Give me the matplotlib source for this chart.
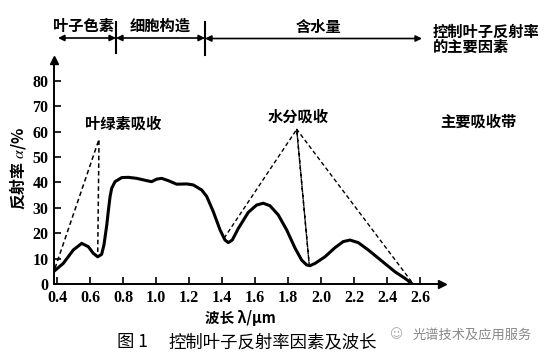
import matplotlib
matplotlib.use("Agg")
import matplotlib.pyplot as plt
from matplotlib.patches import FancyArrowPatch
from matplotlib.lines import Line2D

plt.rcParams['font.family'] = ['Noto Sans CJK SC', 'DejaVu Sans']
plt.rcParams['mathtext.fontset'] = 'stix'

# reflectance curve (wavelength um, reflectance %)
wl = [0.376, 0.436, 0.497, 0.548, 0.588, 0.618, 0.645, 0.669, 0.683, 0.70,
      0.709, 0.72, 0.73, 0.75, 0.791, 0.831, 0.882, 0.942, 0.972, 1.003,
      1.033, 1.073, 1.124, 1.185, 1.225, 1.276, 1.306, 1.346, 1.387, 1.417,
      1.437, 1.461, 1.498, 1.558, 1.609, 1.649, 1.69, 1.74, 1.791, 1.842,
      1.882, 1.912, 1.932, 1.963, 2.023, 2.084, 2.134, 2.175, 2.225, 2.286,
      2.367, 2.448, 2.509, 2.553]
refl = [4.8, 8.1, 13.4, 16.0, 14.7, 12.1, 10.7, 11.7, 15.4, 23.2,
        28.5, 34.4, 37.7, 40.3, 41.9, 42.0, 41.6, 40.7, 40.3, 41.3,
        41.6, 40.7, 39.3, 39.4, 39.0, 37.0, 34.5, 28.5, 21.3, 17.3,
        16.3, 17.3, 21.9, 28.2, 31.1, 31.8, 30.8, 27.2, 21.3, 14.1,
        9.4, 7.5, 7.2, 8.1, 10.7, 14.3, 16.7, 17.3, 16.3, 13.4,
        9.1, 4.8, 2.2, 0.0]

# dashed absorption triangles
chl_x = [0.386, 0.653, 0.645]
chl_y = [6.2, 57.0, 11.4]
water_x = [1.411, 1.852, 1.928, 1.852, 2.559]
water_y = [18.0, 60.9, 7.5, 60.9, 0.0]

xticks = [0.4, 0.6, 0.8, 1.0, 1.2, 1.4, 1.6, 1.8, 2.0, 2.2, 2.4, 2.6]
yticks = [0, 10, 20, 30, 40, 50, 60, 70, 80]

W, H = 554, 360
fig = plt.figure(figsize=(W / 100, H / 100), dpi=100)

def fx(px):
    return px / W

def fy(py):
    return 1 - py / H

ax = fig.add_axes([fx(54), fy(284), (442 - 54) / W, 224 / H])
ax.set_xlim(0.38, 2.733)
ax.set_ylim(0, 88.2)

ax.plot(wl, refl, color='black', lw=2.2, solid_capstyle='round', solid_joinstyle='round')
ax.plot(chl_x, chl_y, color='black', lw=1.1, ls=(0, (3, 2)))
ax.plot(water_x, water_y, color='black', lw=1.0, ls=(0, (3, 2)))

for s in ['top', 'right']:
    ax.spines[s].set_visible(False)
for s in ['left', 'bottom']:
    ax.spines[s].set_linewidth(1.4)
ax.plot(1, 0, '>k', ms=6, transform=ax.transAxes, clip_on=False)
ax.plot(0, 1, '^k', ms=6, transform=ax.transAxes, clip_on=False)

ax.set_xticks(xticks)
ax.set_xticklabels(['%.1f' % v for v in xticks])
ax.set_yticks(yticks)
ax.set_yticklabels([str(v) for v in yticks])
ax.tick_params(direction='in', length=5, width=1.2, pad=4)
for lab in ax.get_xticklabels() + ax.get_yticklabels():
    lab.set_family('Liberation Serif')
    lab.set_fontweight('bold')
    lab.set_fontsize(11.5)

ax.text(0.797, 63.3, '叶绿素吸收', ha='center', va='center', fontsize=11, fontweight='bold')
ax.text(1.861, 66.1, '水分吸收', ha='center', va='center', fontsize=11, fontweight='bold')
ax.text(2.955, 63.9, '主要吸收带', ha='center', va='center', fontsize=11, fontweight='bold')

fig.text(fx(17), fy(168), '反射率 $\\alpha$/%', rotation=90, ha='center', va='center',
         fontsize=11.5, fontweight='bold')
fig.text(fx(240), fy(318), '波长 λ/μm', ha='center', va='center', fontsize=10.5, fontweight='bold')
fig.text(fx(117), fy(342), '图 1', ha='left', va='center', fontsize=12.5)
fig.text(fx(168), fy(342), '控制叶子反射率因素及波长', ha='left', va='center', fontsize=12.5)
fig.text(fx(390), fy(335), '☺', ha='left', va='center', fontsize=9, color='#aaaaaa',
         family=['DejaVu Sans'])
fig.text(fx(413), fy(335), '光谱技术及应用服务', ha='left', va='center', fontsize=9.5,
         color='#888888')

# top factor bar
for a, b, y in [(58, 116, 38), (116, 205, 38), (205, 422, 38.5)]:
    fig.add_artist(FancyArrowPatch((fx(a), fy(y)), (fx(b), fy(y)), arrowstyle='<|-|>',
                                   mutation_scale=9, lw=1.2, color='black',
                                   shrinkA=0, shrinkB=0, transform=fig.transFigure))
for x, y0, y1 in [(116, 22, 53), (205, 22, 55)]:
    fig.add_artist(Line2D([fx(x), fx(x)], [fy(y0), fy(y1)], lw=1.5, color='black',
                          transform=fig.transFigure))
fig.text(fx(83), fy(26), '叶子色素', ha='center', va='center', fontsize=11, fontweight='bold')
fig.text(fx(160), fy(26), '细胞构造', ha='center', va='center', fontsize=11, fontweight='bold')
fig.text(fx(319), fy(27), '含水量', ha='center', va='center', fontsize=11, fontweight='bold')
fig.text(fx(433), fy(32), '控制叶子反射率', ha='left', va='center', fontsize=11, fontweight='bold')
fig.text(fx(433), fy(47), '的主要因素', ha='left', va='center', fontsize=11, fontweight='bold')

fig.savefig('out.png', dpi=100)
